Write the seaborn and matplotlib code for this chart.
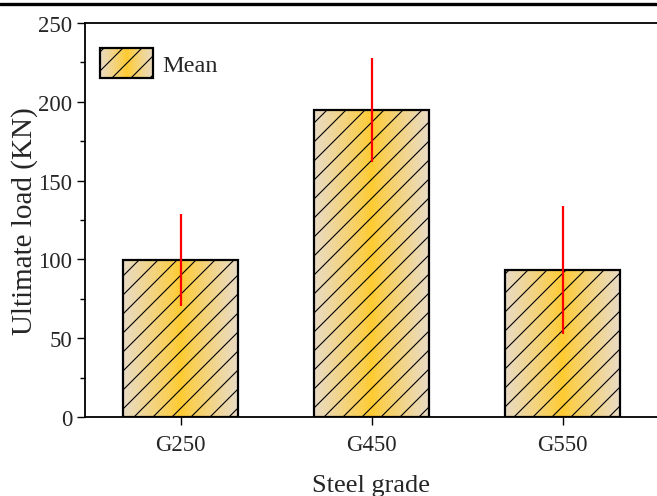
import numpy as np
import pandas as pd
import matplotlib
matplotlib.use("Agg")
import matplotlib.pyplot as plt
import seaborn as sns
from matplotlib.patches import Patch
from matplotlib.lines import Line2D
from matplotlib.ticker import MultipleLocator

# ---- data ----
grades = ["G250", "G450", "G550"]
mean_load = [99.5, 195.0, 93.2]
err_load = [29.0, 33.0, 40.5]
legend_label = "Mean"
x_label = "Steel grade"
y_label = "Ultimate load (KN)"

W, H, DPI = 657, 497, 114
K = 100.0 / DPI  # point-size scale so sizes are specified as at 100 dpi

sns.set_theme(style="white")
plt.rcParams["font.family"] = ["Liberation Serif", "DejaVu Serif"]
plt.rcParams["hatch.linewidth"] = 0.8 * K
plt.rcParams["hatch.color"] = "black"

edge_rgb = np.array([233, 219, 197]) / 255.0
center_rgb = np.array([255, 203, 47]) / 255.0


def gradient(n=256):
    t = np.abs(np.linspace(-1, 1, n)) ** 0.85
    g = center_rgb[None, :] * (1 - t[:, None]) + edge_rgb[None, :] * t[:, None]
    return g[None, :, :]


fig = plt.figure(figsize=(W / DPI, H / DPI), dpi=DPI)
ax = fig.add_axes([85 / W, (H - 418) / H, 573 / W, 394 / H])
ax.set_zorder(2)
ax.patch.set_alpha(0)

df = pd.DataFrame({"grade": grades, "load": mean_load})
sns.barplot(data=df, x="grade", y="load", order=grades, width=0.6,
            color="white", errorbar=None, ax=ax)

grad = gradient()
for p in ax.patches:
    x0, w, h = p.get_x(), p.get_width(), p.get_height()
    ax.imshow(grad, extent=[x0, x0 + w, 0, h], aspect="auto",
              zorder=1, interpolation="bilinear")
    p.set_facecolor("none")
    p.set_edgecolor("black")
    p.set_linewidth(1.6 * K)
    p.set_hatch("//")
    p.set_zorder(2)

ax.errorbar(x=np.arange(len(grades)), y=mean_load, yerr=err_load,
            fmt="none", ecolor="red", elinewidth=1.6 * K, capsize=0, zorder=3)

ax.set_xlim(-0.5, 2.5)
ax.set_ylim(0, 250)
ax.yaxis.set_major_locator(MultipleLocator(50))
ax.yaxis.set_minor_locator(MultipleLocator(25))

for side in ["left", "bottom", "top"]:
    ax.spines[side].set_visible(True)
    ax.spines[side].set_color("black")
    ax.spines[side].set_linewidth(1.3 * K)
ax.spines["right"].set_visible(False)

ax.tick_params(axis="both", which="major", direction="out", length=6 * K,
               width=1.0 * K, color="black", labelsize=16.5 * K,
               bottom=True, left=True, pad=3 * K)
ax.tick_params(axis="y", which="minor", direction="out", length=3.5 * K,
               width=1.0 * K, color="black", left=True)
ax.tick_params(axis="x", pad=6 * K)

ax.set_xlabel(x_label, fontsize=19 * K, labelpad=14 * K)
ax.set_ylabel(y_label, fontsize=21 * K, labelpad=0)

handle = Patch(facecolor="none", edgecolor="black", hatch="//", linewidth=1.6 * K,
               label=legend_label)
leg = ax.legend(handles=[handle], loc="upper left", frameon=False,
                fontsize=17.5 * K, handlelength=2.2, handleheight=1.5,
                handletextpad=0.35, borderaxespad=0, borderpad=0,
                bbox_to_anchor=(15 / 573, 1 - 25 / 394))

# top border line
fig.add_artist(Line2D([0, 1], [1 - 5 / H, 1 - 5 / H], transform=fig.transFigure,
                      color="black", linewidth=2.4 * K))

# gradient under legend handle
fig.canvas.draw()
bb = leg.legend_handles[0].get_window_extent()
lax = fig.add_axes([bb.x0 / W, bb.y0 / H, bb.width / W, bb.height / H])
lax.set_zorder(1)
lax.imshow(grad, extent=[0, 1, 0, 1], aspect="auto", interpolation="bilinear")
lax.set_axis_off()

fig.savefig("out.png", dpi=DPI)
